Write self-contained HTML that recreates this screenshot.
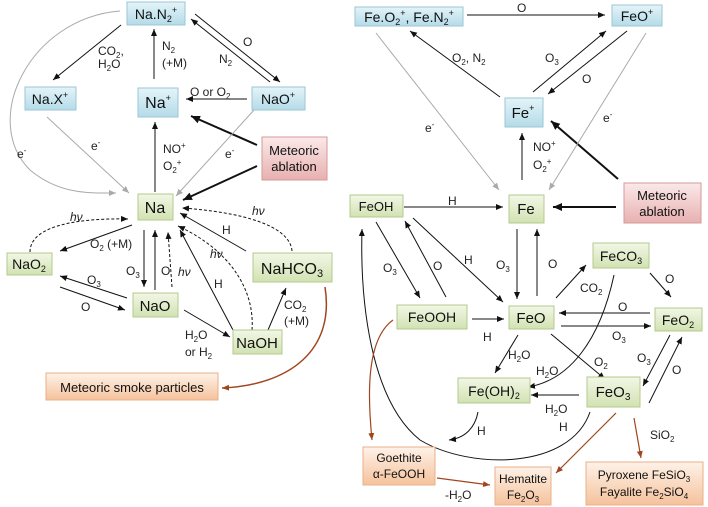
<!DOCTYPE html>
<html><head><meta charset="utf-8"><style>
html,body{margin:0;padding:0;background:#fff}
svg{display:block;font-family:"Liberation Sans",sans-serif}
.l{font-size:12px;fill:#222}
.n{font-size:14px;fill:#111}
</style></head><body>
<svg width="708" height="507" viewBox="0 0 708 507" xmlns="http://www.w3.org/2000/svg">
<defs>
<linearGradient id="gb" x1="0" y1="0" x2="0" y2="1"><stop offset="0" stop-color="#e4f4f9"/><stop offset="1" stop-color="#b4dbe8"/></linearGradient>
<linearGradient id="gg" x1="0" y1="0" x2="0" y2="1"><stop offset="0" stop-color="#f2f7e6"/><stop offset="1" stop-color="#d2e2b2"/></linearGradient>
<linearGradient id="gp" x1="0" y1="0" x2="0" y2="1"><stop offset="0" stop-color="#fbe9e9"/><stop offset="1" stop-color="#e8b0b0"/></linearGradient>
<linearGradient id="go" x1="0" y1="0" x2="0" y2="1"><stop offset="0" stop-color="#fef2e8"/><stop offset="1" stop-color="#f5c29c"/></linearGradient>
<marker id="a" markerUnits="userSpaceOnUse" markerWidth="8" markerHeight="8" refX="7" refY="4" orient="auto"><path d="M0,1 L7,4 L0,7 z" fill="#111"/></marker>
<marker id="ag" markerUnits="userSpaceOnUse" markerWidth="8" markerHeight="8" refX="7" refY="4" orient="auto"><path d="M0,1 L7,4 L0,7 z" fill="#aaa"/></marker>
<marker id="ab" markerUnits="userSpaceOnUse" markerWidth="8" markerHeight="8" refX="7" refY="4" orient="auto"><path d="M0,1 L7,4 L0,7 z" fill="#a0461e"/></marker>
<marker id="at" markerUnits="userSpaceOnUse" markerWidth="10" markerHeight="10" refX="9" refY="5" orient="auto"><path d="M0,1 L9,5 L0,9 z" fill="#111"/></marker>
</defs>

<!-- ===== LEFT connectors ===== -->
<g stroke="#111" stroke-width="1" fill="none" marker-end="url(#a)">
<line x1="121" y1="25" x2="53" y2="80"/>
<line x1="154" y1="79" x2="154" y2="29"/>
<line x1="195" y1="14" x2="280" y2="82"/>
<line x1="270" y1="82" x2="191" y2="19"/>
<line x1="247" y1="99" x2="186" y2="99"/>
<line x1="155" y1="192" x2="155" y2="122"/>
<line x1="132" y1="225" x2="60" y2="251"/>
<line x1="144" y1="230" x2="144" y2="287"/>
<line x1="155" y1="290" x2="155" y2="230"/>
<line x1="233" y1="330" x2="180" y2="230"/>
<line x1="246" y1="251" x2="180" y2="213"/>
<line x1="127" y1="298" x2="60" y2="276"/>
<line x1="60" y1="287" x2="125" y2="310"/>
<line x1="184" y1="310" x2="230" y2="337"/>
<line x1="268" y1="330" x2="286" y2="288"/>
</g>
<g stroke="#111" stroke-width="1" fill="none" stroke-dasharray="3,2" marker-end="url(#a)">
<line x1="172" y1="287" x2="168" y2="232"/>
<path d="M252,330 C255,290 230,250 178,226"/>
<path d="M292,251 C290,225 240,212 182,208"/>
<path d="M30,252 C30,225 80,218 128,219"/>
</g>
<g stroke="#111" stroke-width="2" fill="none" marker-end="url(#at)">
<line x1="257" y1="145" x2="191" y2="116"/>
<line x1="257" y1="166" x2="183" y2="200"/>
</g>
<g stroke="#aaa" stroke-width="1" fill="none" marker-end="url(#ag)">
<line x1="47" y1="117" x2="129" y2="193"/>
<line x1="254" y1="110" x2="176" y2="196"/>
<path d="M120,11 C30,18 -20,120 30,170 C60,195 90,193 116,193"/>
</g>
<path d="M325,287 C335,350 290,385 222,388" stroke="#a0461e" stroke-width="1.5" fill="none" marker-end="url(#ab)"/>

<!-- ===== RIGHT connectors ===== -->
<g stroke="#111" stroke-width="1" fill="none" marker-end="url(#a)">
<line x1="467" y1="15" x2="605" y2="15"/>
<line x1="500" y1="97" x2="410" y2="31"/>
<line x1="533" y1="92" x2="606" y2="31"/>
<line x1="627" y1="31" x2="548" y2="94"/>
<line x1="522" y1="180" x2="522" y2="133"/>
<line x1="404" y1="207" x2="503" y2="207"/>
<line x1="517" y1="229" x2="517" y2="299"/>
<line x1="537" y1="296" x2="537" y2="229"/>
<line x1="376" y1="222" x2="420" y2="298"/>
<line x1="446" y1="297" x2="405" y2="221"/>
<line x1="413" y1="218" x2="503" y2="302"/>
<line x1="472" y1="319" x2="504" y2="319"/>
<line x1="556" y1="298" x2="586" y2="265"/>
<line x1="650" y1="273" x2="671" y2="297"/>
<line x1="650" y1="313" x2="559" y2="313"/>
<line x1="561" y1="326" x2="651" y2="326"/>
<line x1="518" y1="335" x2="495" y2="373"/>
<line x1="551" y1="334" x2="605" y2="379"/>
<line x1="579" y1="395" x2="531" y2="395"/>
<line x1="670" y1="335" x2="643" y2="386"/>
<line x1="649" y1="403" x2="682" y2="337"/>
<path d="M614,275 C600,340 570,380 528,387"/>
<path d="M478,412 C475,428 465,438 449,440"/>
<path d="M590,412 C570,470 470,470 420,440 C370,400 360,300 362,229"/>
</g>
<g stroke="#111" stroke-width="2" fill="none" marker-end="url(#at)">
<line x1="618" y1="179" x2="551" y2="121"/>
<line x1="616" y1="207" x2="553" y2="207"/>
</g>
<g stroke="#aaa" stroke-width="1" fill="none" marker-end="url(#ag)">
<line x1="376" y1="33" x2="499" y2="190"/>
<line x1="646" y1="33" x2="549" y2="190"/>
</g>
<g stroke="#a0461e" stroke-width="1.2" fill="none" marker-end="url(#ab)">
<path d="M393,320 C365,340 368,400 372,440"/>
<line x1="437" y1="478" x2="490" y2="485"/>
<line x1="616" y1="413" x2="556" y2="473"/>
<line x1="634" y1="418" x2="641" y2="458"/>
</g>

<!-- ===== NODES ===== -->
<g stroke-width="1">
<rect x="127" y="2" width="58" height="23" fill="url(#gb)" stroke="#9cc6d6"/>
<rect x="25" y="87" width="51" height="23" fill="url(#gb)" stroke="#9cc6d6"/>
<rect x="138" y="88" width="40" height="29" fill="url(#gb)" stroke="#9cc6d6"/>
<rect x="252" y="87" width="53" height="23" fill="url(#gb)" stroke="#9cc6d6"/>
<rect x="262" y="137" width="65" height="43" fill="url(#gp)" stroke="#d59a9a"/>
<rect x="138" y="194" width="35" height="26" fill="url(#gg)" stroke="#b4c98c"/>
<rect x="7" y="253" width="45" height="22" fill="url(#gg)" stroke="#b4c98c"/>
<rect x="253" y="253" width="79" height="29" fill="url(#gg)" stroke="#b4c98c"/>
<rect x="133" y="293" width="45" height="24" fill="url(#gg)" stroke="#b4c98c"/>
<rect x="233" y="330" width="49" height="24" fill="url(#gg)" stroke="#b4c98c"/>
<rect x="46" y="373" width="172" height="27" fill="url(#go)" stroke="#e8b08a"/>

<rect x="355" y="7" width="108" height="19" fill="url(#gb)" stroke="#9cc6d6"/>
<rect x="612" y="5" width="50" height="21" fill="url(#gb)" stroke="#9cc6d6"/>
<rect x="505" y="98" width="38" height="29" fill="url(#gb)" stroke="#9cc6d6"/>
<rect x="624" y="183" width="77" height="40" fill="url(#gp)" stroke="#d59a9a"/>
<rect x="350" y="195" width="53" height="22" fill="url(#gg)" stroke="#b4c98c"/>
<rect x="509" y="195" width="35" height="28" fill="url(#gg)" stroke="#b4c98c"/>
<rect x="593" y="243" width="56" height="25" fill="url(#gg)" stroke="#b4c98c"/>
<rect x="397" y="305" width="70" height="24" fill="url(#gg)" stroke="#b4c98c"/>
<rect x="509" y="306" width="45" height="23" fill="url(#gg)" stroke="#b4c98c"/>
<rect x="655" y="308" width="47" height="23" fill="url(#gg)" stroke="#b4c98c"/>
<rect x="458" y="378" width="72" height="25" fill="url(#gg)" stroke="#b4c98c"/>
<rect x="587" y="377" width="53" height="30" fill="url(#gg)" stroke="#b4c98c"/>
<rect x="363" y="447" width="72" height="38" fill="url(#go)" stroke="#e8b08a"/>
<rect x="495" y="467" width="56" height="38" fill="url(#go)" stroke="#e8b08a"/>
<rect x="586" y="462" width="117" height="43" fill="url(#go)" stroke="#e8b08a"/>
</g>

<!-- node text -->
<g class="n" text-anchor="middle">
<text x="156" y="19">Na.N<tspan font-size="9" dy="3">2</tspan><tspan font-size="9" dy="-9">+</tspan></text>
<text x="50" y="104">Na.X<tspan font-size="9" dy="-6">+</tspan></text>
<text x="158" y="108" font-size="16">Na<tspan font-size="9" dy="-7">+</tspan></text>
<text x="278" y="104">NaO<tspan font-size="9" dy="-6">+</tspan></text>
<text x="294" y="155" font-size="13">Meteoric</text>
<text x="294" y="171" font-size="13">ablation</text>
<text x="155" y="213" font-size="16">Na</text>
<text x="29" y="269">NaO<tspan font-size="9" dy="3">2</tspan></text>
<text x="292" y="274" font-size="16">NaHCO<tspan font-size="11" dy="3">3</tspan></text>
<text x="155" y="311" font-size="15">NaO</text>
<text x="257" y="348" font-size="15">NaOH</text>
<text x="132" y="392" font-size="13">Meteoric smoke particles</text>

<text x="409" y="22">Fe.O<tspan font-size="9" dy="3">2</tspan><tspan font-size="9" dy="-9">+</tspan><tspan dy="6">, Fe.N</tspan><tspan font-size="9" dy="3">2</tspan><tspan font-size="9" dy="-9">+</tspan></text>
<text x="637" y="21">FeO<tspan font-size="9" dy="-6">+</tspan></text>
<text x="523" y="118" font-size="15">Fe<tspan font-size="9" dy="-7">+</tspan></text>
<text x="662" y="200" font-size="13">Meteoric</text>
<text x="662" y="216" font-size="13">ablation</text>
<text x="376" y="211" font-size="13">FeOH</text>
<text x="526" y="214" font-size="15">Fe</text>
<text x="621" y="261">FeCO<tspan font-size="9" dy="3">3</tspan></text>
<text x="432" y="322">FeOOH</text>
<text x="531" y="323" font-size="15">FeO</text>
<text x="678" y="325">FeO<tspan font-size="9" dy="3">2</tspan></text>
<text x="494" y="396">Fe(OH)<tspan font-size="9" dy="3">2</tspan></text>
<text x="613" y="397" font-size="15">FeO<tspan font-size="10" dy="3">3</tspan></text>
<text x="399" y="462" font-size="12">Goethite</text>
<text x="399" y="478" font-size="12">α-FeOOH</text>
<text x="523" y="483" font-size="12">Hematite</text>
<text x="523" y="499" font-size="12">Fe<tspan font-size="8" dy="3">2</tspan><tspan dy="-3">O</tspan><tspan font-size="8" dy="3">3</tspan></text>
<text x="644" y="479" font-size="12">Pyroxene FeSiO<tspan font-size="8" dy="3">3</tspan></text>
<text x="644" y="496" font-size="12">Fayalite   Fe<tspan font-size="8" dy="3">2</tspan><tspan dy="-3">SiO</tspan><tspan font-size="8" dy="3">4</tspan></text>
</g>

<!-- edge labels -->
<g class="l">
<text x="98" y="55">CO<tspan font-size="8" dy="3">2</tspan><tspan dy="-3">,</tspan></text>
<text x="98" y="68">H<tspan font-size="8" dy="3">2</tspan><tspan dy="-3">O</tspan></text>
<text x="162" y="50">N<tspan font-size="8" dy="3">2</tspan></text>
<text x="162" y="67">(+M)</text>
<text x="243" y="46">O</text>
<text x="219" y="63">N<tspan font-size="8" dy="3">2</tspan></text>
<text x="190" y="96">O or O<tspan font-size="8" dy="3">2</tspan></text>
<text x="163" y="153">NO<tspan font-size="8" dy="-5">+</tspan></text>
<text x="163" y="170">O<tspan font-size="8" dy="3">2</tspan><tspan font-size="8" dy="-8">+</tspan></text>
<text x="17" y="158">e<tspan font-size="8" dy="-5">-</tspan></text>
<text x="91" y="150">e<tspan font-size="8" dy="-5">-</tspan></text>
<text x="225" y="158">e<tspan font-size="8" dy="-5">-</tspan></text>
<text x="90" y="248">O<tspan font-size="8" dy="3">2</tspan><tspan dy="-3"> (+M)</tspan></text>
<text x="126" y="275">O<tspan font-size="8" dy="3">3</tspan></text>
<text x="161" y="275">O</text>
<text x="178" y="276" font-style="italic">hν</text>
<text x="210" y="258" font-style="italic">hν</text>
<text x="214" y="288">H</text>
<text x="222" y="234">H</text>
<text x="252" y="215" font-style="italic">hν</text>
<text x="70" y="221" font-style="italic">hν</text>
<text x="87" y="284">O<tspan font-size="8" dy="3">3</tspan></text>
<text x="81" y="311">O</text>
<text x="185" y="339">H<tspan font-size="8" dy="3">2</tspan><tspan dy="-3">O</tspan></text>
<text x="185" y="356">or H<tspan font-size="8" dy="3">2</tspan></text>
<text x="284" y="309">CO<tspan font-size="8" dy="3">2</tspan></text>
<text x="284" y="325">(+M)</text>

<text x="517" y="12">O</text>
<text x="452" y="62">O<tspan font-size="8" dy="3">2</tspan><tspan dy="-3">, N</tspan><tspan font-size="8" dy="3">2</tspan></text>
<text x="545" y="62">O<tspan font-size="8" dy="3">3</tspan></text>
<text x="582" y="83">O</text>
<text x="425" y="132">e<tspan font-size="8" dy="-5">-</tspan></text>
<text x="603" y="122">e<tspan font-size="8" dy="-5">-</tspan></text>
<text x="533" y="151">NO<tspan font-size="8" dy="-5">+</tspan></text>
<text x="533" y="169">O<tspan font-size="8" dy="3">2</tspan><tspan font-size="8" dy="-8">+</tspan></text>
<text x="448" y="205">H</text>
<text x="496" y="269">O<tspan font-size="8" dy="3">3</tspan></text>
<text x="548" y="268">O</text>
<text x="383" y="272">O<tspan font-size="8" dy="3">3</tspan></text>
<text x="433" y="270">O</text>
<text x="464" y="264">H</text>
<text x="483" y="341">H</text>
<text x="580" y="292">CO<tspan font-size="8" dy="3">2</tspan></text>
<text x="665" y="283">O</text>
<text x="618" y="311">O</text>
<text x="612" y="340">O<tspan font-size="8" dy="3">3</tspan></text>
<text x="508" y="359">H<tspan font-size="8" dy="3">2</tspan><tspan dy="-3">O</tspan></text>
<text x="536" y="375">H<tspan font-size="8" dy="3">2</tspan><tspan dy="-3">O</tspan></text>
<text x="594" y="366">O<tspan font-size="8" dy="3">2</tspan></text>
<text x="545" y="413">H<tspan font-size="8" dy="3">2</tspan><tspan dy="-3">O</tspan></text>
<text x="637" y="362">O<tspan font-size="8" dy="3">3</tspan></text>
<text x="672" y="374">O</text>
<text x="477" y="435">H</text>
<text x="559" y="431">H</text>
<text x="650" y="439">SiO<tspan font-size="8" dy="3">2</tspan></text>
<text x="445" y="499">-H<tspan font-size="8" dy="3">2</tspan><tspan dy="-3">O</tspan></text>
</g>
</svg>
</body></html>
